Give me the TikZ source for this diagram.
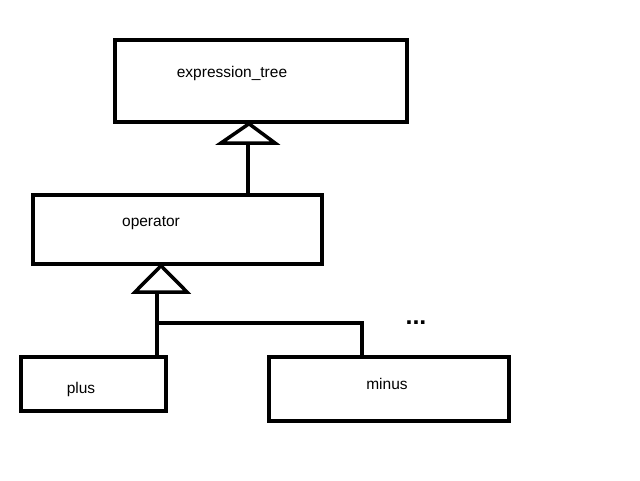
\documentclass[tikz,border=0pt]{standalone}
\usepackage{fontspec}
\setmainfont{Liberation Sans}
\begin{document}
\begin{tikzpicture}[x=1pt,y=-1pt,
  box/.style={draw,line width=3.5pt,minimum width=#1,inner sep=0pt,fill=white},
  lbl/.style={font=\fontsize{15.5}{18}\selectfont,inner sep=0pt},
  conn/.style={line width=3.5pt},
  tri/.style={line width=3.5pt,fill=white,line join=miter}]
\useasboundingbox[fill=white] (0,0) rectangle (640,480);
% boxes
\node[box=292pt,minimum height=82pt] (et) at (261,81) {};
\node[box=289pt,minimum height=69pt] (op) at (177.5,229.5) {};
\node[box=145pt,minimum height=54pt] (pl) at (93.5,384) {};
\node[box=240pt,minimum height=64pt] (mi) at (389,389) {};
% labels
\node[lbl] (etl) at (232,73) {expression\_tree};
\node[lbl] (opl) at (151,223) {operator};
\node[lbl] (pll) at (81,389) {plus};
\node[lbl] (mil) at (387,384) {minus};
\node[lbl,font=\fontsize{25}{28}\selectfont\bfseries,anchor=base] (dots) at (416,324) {...};
% generalization 1
\coordinate (b1) at (248,143);
\draw[conn] (op.north -| b1) -- (b1);
\draw[tri] (221,143) -- (275,143) -- (et.south -| 249,0) -- cycle;
% generalization 2
\coordinate (b2) at (157,292);
\coordinate (j) at (157,323);
\coordinate (j2) at (362,323);
\draw[conn] (pl.north -| b2) -- (b2);
\draw[conn] (j) -- (j2) -- (mi.north -| j2);
\draw[tri] (135,292) -- (187,292) -- (op.south -| 161,0) -- cycle;
\end{tikzpicture}
\end{document}
